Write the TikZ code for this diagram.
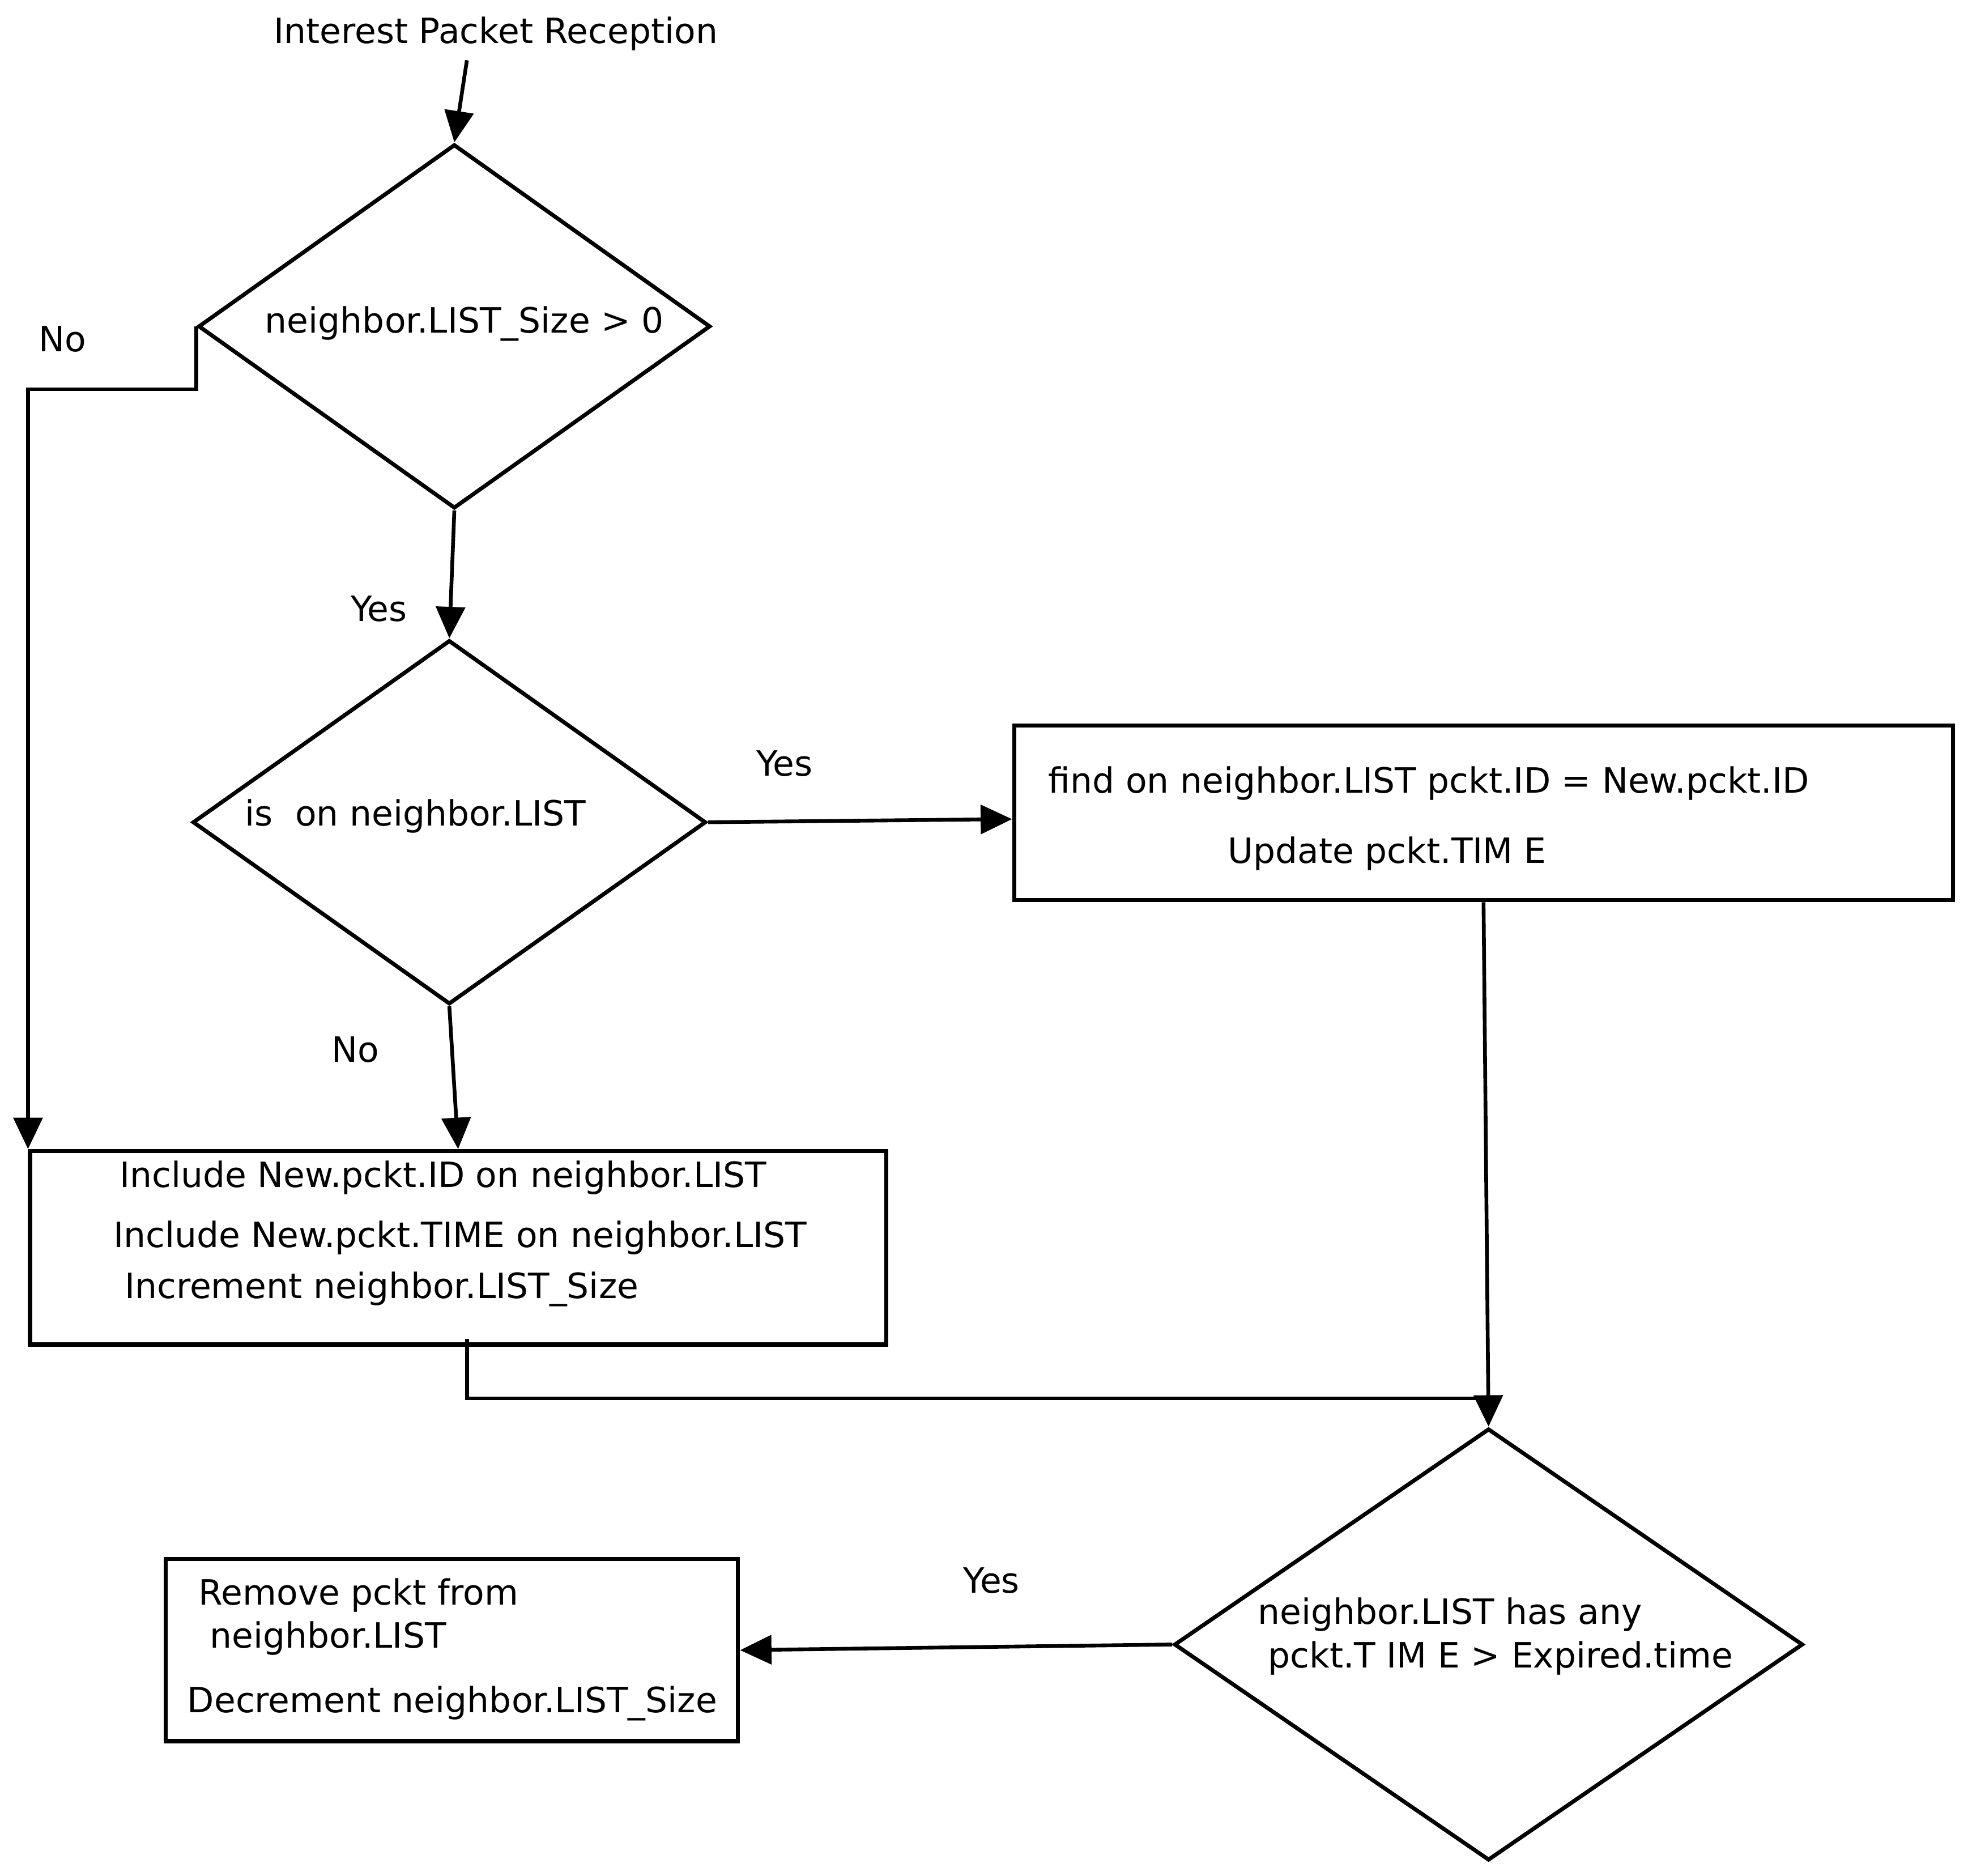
\documentclass[tikz,border=0pt]{standalone}
\usepackage{fontspec}
\setmainfont{DejaVu Sans}
\usetikzlibrary{shapes.geometric,arrows.meta,calc}
\begin{document}
\begin{tikzpicture}[x=0.02cm,y=-0.02cm,
  font=\fontsize{15.8}{18}\selectfont,
  dbox/.style={draw,line width=1.9pt,rectangle,inner sep=0pt},
  ddiam/.style={draw,line width=1.8pt,diamond,inner sep=0pt},
  conn/.style={line width=1.7pt},
  arr/.style={conn,-{Triangle[length=0.5cm,width=0.46cm]}},
  txt/.style={inner sep=0pt,anchor=west},
  lbl/.style={inner sep=0pt}]
\useasboundingbox (0,0) rectangle (1568,1494);

% shapes
\node[ddiam,minimum width=408*0.02cm,minimum height=290*0.02cm] (d1) at (362,260) {};
\node[ddiam,minimum width=409*0.02cm,minimum height=290*0.02cm] (d2) at (358,655) {};
\node[ddiam,minimum width=501*0.02cm,minimum height=344*0.02cm] (d3) at (1186,1310) {};
\node[dbox,minimum width=748*0.02cm,minimum height=139*0.02cm] (b1) at (1182,647.5) {};
\node[dbox,minimum width=682*0.02cm,minimum height=154*0.02cm] (b2) at (365,994) {};
\node[dbox,minimum width=456*0.02cm,minimum height=145*0.02cm] (b3) at (360,1314.5) {};

% texts
\node[lbl] (title) at (395,27) {Interest Packet Reception};
\node[lbl] (d1t) at (370,258) {neighbor.LIST\_Size > 0};
\node[txt] (d2t) at (195,650) {is\ \ on neighbor.LIST};
\node[txt] (b1t1) at (835,624) {find on neighbor.LIST pckt.ID = New.pckt.ID};
\node[txt] (b1t2) at (978,680) {Update pckt.TIM E};
\node[txt] (b2t1) at (95,938) {Include New.pckt.ID on neighbor.LIST};
\node[txt] (b2t2) at (90,986) {Include New.pckt.TIME on neighbor.LIST};
\node[txt] (b2t3) at (99,1027) {Increment neighbor.LIST\_Size};
\node[txt] (d3t1) at (1002,1286) {neighbor.LIST has any};
\node[txt] (d3t2) at (1010,1321) {pckt.T IM E > Expired.time};
\node[txt] (b3t1) at (158,1271) {Remove pckt from};
\node[txt] (b3t2) at (167,1305) {neighbor.LIST};
\node[txt] (b3t3) at (149,1357) {Decrement neighbor.LIST\_Size};

% labels
\node[lbl] (no1) at (50,270) {No};
\node[lbl] (yes1) at (302,485) {Yes};
\node[lbl] (yes2) at (625,608) {Yes};
\node[lbl] (no2) at (283,836) {No};
\node[lbl] (yes3) at (790,1259) {Yes};

% connectors
\coordinate (t0) at (372,48);
\draw[arr] (t0) -- (d1.north);
\draw[arr] (d1.south) -- (d2.north);
\draw[arr] (d1.west) -- ++(0,50) -| (b2.north west);
\draw[arr] (d2.east) -- ($(b1.west)+(0,5)$);
\draw[arr] (d2.south) -- (b2.north);
\coordinate (j) at (1186,1114);
\draw[conn] ($(b2.south)+(7,-6)$) |- (j);
\draw[arr] (b1.south) -- (d3.north);
\draw[arr] (d3.west) -- (b3.east);
\end{tikzpicture}
\end{document}
